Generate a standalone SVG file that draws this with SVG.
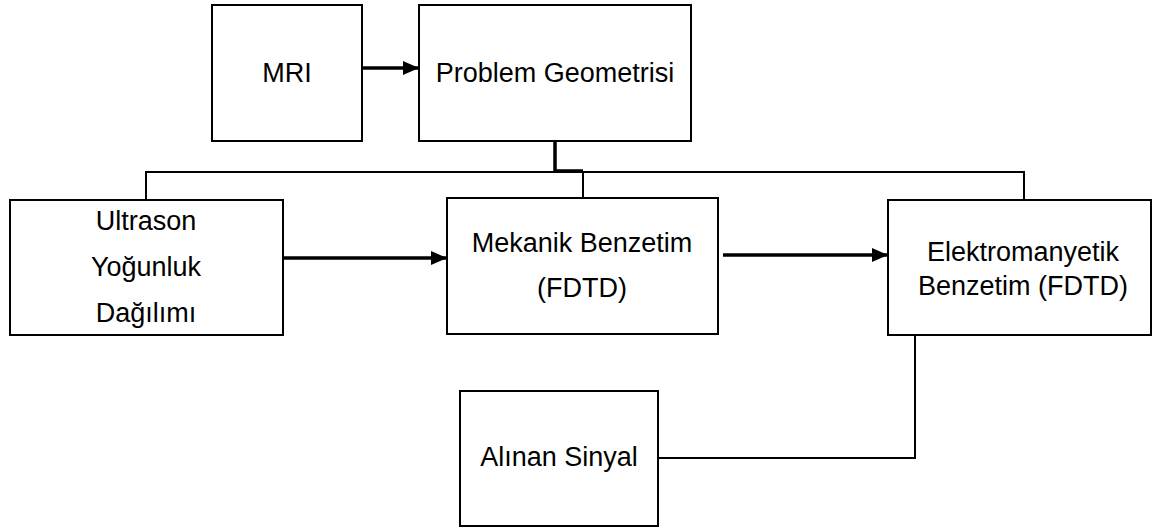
<svg xmlns="http://www.w3.org/2000/svg" width="1153" height="529" viewBox="0 0 1153 529">
  <defs>
    <marker id="arrow" markerUnits="userSpaceOnUse" markerWidth="16" markerHeight="14" viewBox="0 0 16 14" refX="16" refY="7" orient="auto">
      <path d="M0,0 L16,7 L0,14 Z" fill="#000"/>
    </marker>
    <style>
      .box { fill: #fff; stroke: #000; stroke-width: 2; }
      .label { font-family: "Liberation Sans", Arial, sans-serif; font-size: 27px; fill: #000; text-anchor: middle; }
      .wire { fill: none; stroke: #000; stroke-width: 2; }
      .bold { fill: none; stroke: #000; stroke-width: 3.5; }
      .flow { fill: none; stroke: #000; stroke-width: 3.5; marker-end: url(#arrow); }
    </style>
  </defs>

  <rect width="1153" height="529" fill="#fff"/>

  <g id="connectors">
    <!-- MRI to Problem Geometrisi -->
    <line class="flow" x1="363" y1="68" x2="419" y2="68"/>
    <!-- distribution tree below Problem Geometrisi -->
    <line class="bold" x1="555" y1="141" x2="555" y2="172"/>
    <line class="wire" x1="146" y1="172" x2="1024" y2="172"/>
    <line class="bold" x1="555" y1="171" x2="583" y2="171"/>
    <line class="wire" x1="146" y1="171" x2="146" y2="200"/>
    <line class="wire" x1="583" y1="171" x2="583" y2="198"/>
    <line class="wire" x1="1024" y1="171" x2="1024" y2="200"/>
    <!-- simulation chain -->
    <line class="flow" x1="284" y1="258" x2="447" y2="258"/>
    <line class="flow" x1="723" y1="255" x2="888" y2="255"/>
    <!-- received signal link -->
    <polyline class="wire" points="915,335 915,458 658,458"/>
  </g>

  <g id="node-mri">
    <rect class="box" x="212" y="5" width="150" height="136"/>
    <text class="label" x="287" y="82">MRI</text>
  </g>

  <g id="node-problem-geometrisi">
    <rect class="box" x="419" y="5" width="272" height="136"/>
    <text class="label" x="555" y="82">Problem Geometrisi</text>
  </g>

  <g id="node-ultrason">
    <rect class="box" x="10" y="200" width="273" height="135"/>
    <text class="label" x="146" y="230">Ultrason</text>
    <text class="label" x="146" y="276">Yoğunluk</text>
    <text class="label" x="146" y="322">Dağılımı</text>
  </g>

  <g id="node-mekanik">
    <rect class="box" x="447" y="198" width="271" height="136"/>
    <text class="label" x="582" y="252">Mekanik Benzetim</text>
    <text class="label" x="582" y="297">(FDTD)</text>
  </g>

  <g id="node-elektromanyetik">
    <rect class="box" x="888" y="200" width="263" height="135"/>
    <text class="label" x="1023" y="261">Elektromanyetik</text>
    <text class="label" x="1023" y="295">Benzetim (FDTD)</text>
  </g>

  <g id="node-alinan-sinyal">
    <rect class="box" x="460" y="391" width="198" height="135"/>
    <text class="label" x="559" y="466">Alınan Sinyal</text>
  </g>
</svg>
